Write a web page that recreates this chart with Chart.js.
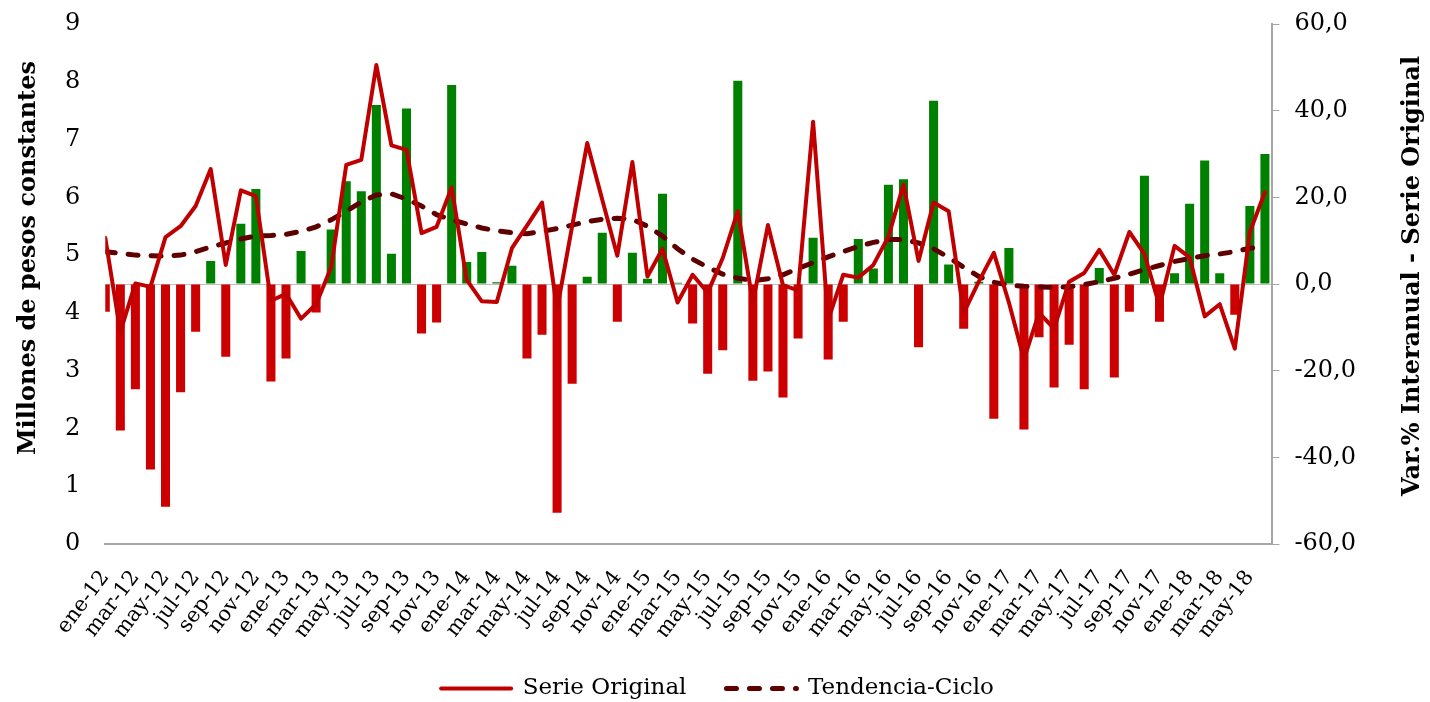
<!DOCTYPE html>
<html>
<head>
<meta charset="utf-8">
<script src="https://cdn.jsdelivr.net/npm/chart.js@4.4.1/dist/chart.umd.min.js"></script>
<style>
  html, body { margin: 0; padding: 0; background: #ffffff; }
  #wrap { width: 1430px; height: 702px; position: relative; }
</style>
</head>
<body>
<div id="wrap"><canvas id="c" width="1430" height="702"></canvas></div>
<script>
const monthLabels = [
  'ene-12','feb-12','mar-12','abr-12','may-12','jun-12','jul-12','ago-12','sep-12','oct-12','nov-12','dic-12',
  'ene-13','feb-13','mar-13','abr-13','may-13','jun-13','jul-13','ago-13','sep-13','oct-13','nov-13','dic-13',
  'ene-14','feb-14','mar-14','abr-14','may-14','jun-14','jul-14','ago-14','sep-14','oct-14','nov-14','dic-14',
  'ene-15','feb-15','mar-15','abr-15','may-15','jun-15','jul-15','ago-15','sep-15','oct-15','nov-15','dic-15',
  'ene-16','feb-16','mar-16','abr-16','may-16','jun-16','jul-16','ago-16','sep-16','oct-16','nov-16','dic-16',
  'ene-17','feb-17','mar-17','abr-17','may-17','jun-17','jul-17','ago-17','sep-17','oct-17','nov-17','dic-17',
  'ene-18','feb-18','mar-18','abr-18','may-18','jun-18'
];

const serieOriginal = [
  5.30, 3.67, 4.51, 4.45, 5.31, 5.50, 5.85, 6.49, 4.83, 6.12,
  6.02, 4.21, 4.33, 3.90, 4.15, 4.79, 6.56, 6.65, 8.29, 6.90,
  6.82, 5.38, 5.49, 6.17, 4.57, 4.20, 4.19, 5.12, 5.51, 5.91,
  4.06, 5.50, 6.94, 5.96, 4.99, 6.61, 4.63, 5.11, 4.18, 4.66,
  4.35, 4.95, 5.76, 4.18, 5.52, 4.48, 4.39, 7.31, 3.88, 4.66,
  4.61, 4.83, 5.32, 6.22, 4.90, 5.91, 5.76, 4.00, 4.54, 5.04,
  4.18, 3.20, 4.00, 3.73, 4.54, 4.69, 5.09, 4.66, 5.40, 5.02,
  4.12, 5.16, 4.96, 3.94, 4.15, 3.38, 5.40, 6.09
];

const tendenciaCiclo = [
  5.06, 5.03, 5.00, 4.99, 4.98, 5.00, 5.06, 5.14, 5.21, 5.28,
  5.33, 5.34, 5.36, 5.41, 5.49, 5.61, 5.76, 5.92, 6.04, 6.06,
  5.97, 5.85, 5.70, 5.61, 5.54, 5.47, 5.42, 5.39, 5.37, 5.41,
  5.46, 5.52, 5.58, 5.62, 5.64, 5.62, 5.50, 5.33, 5.11, 4.93,
  4.79, 4.67, 4.60, 4.56, 4.59, 4.66, 4.77, 4.87, 4.97, 5.06,
  5.15, 5.22, 5.27, 5.27, 5.21, 5.11, 4.96, 4.79, 4.63, 4.53,
  4.48, 4.46, 4.45, 4.44, 4.45, 4.49, 4.54, 4.60, 4.67, 4.75,
  4.82, 4.89, 4.94, 4.99, 5.02, 5.06, 5.12, 5.14
];

const variacionInteranual = [
  -6.4, -33.8, -24.3, -42.8, -51.4, -25.0, -11.0, 5.3, -16.8, 13.9,
  21.9, -22.5, -17.2, 7.6, -6.6, 12.6, 23.7, 21.4, 41.3, 7.0,
  40.5, -11.4, -8.9, 45.9, 5.1, 7.4, 0.4, 4.2, -17.2, -11.7,
  -52.8, -23.0, 1.7, 11.8, -8.7, 7.2, 1.2, 20.8, 0.3, -9.1,
  -20.7, -15.3, 46.9, -22.3, -20.2, -26.2, -12.6, 10.7, -17.4, -8.7,
  10.4, 3.6, 22.9, 24.2, -14.6, 42.3, 4.5, -10.3, 0.5, -31.1,
  8.3, -33.6, -12.3, -23.9, -14.0, -24.3, 3.7, -21.6, -6.4, 25.0,
  -8.7, 2.5, 18.5, 28.5, 2.5, -7.1, 18.0, 30.0
];

const seriesNames = ['Serie Original', 'Tendencia-Ciclo', 'Var.% Interanual'];
const leftAxisTitle = 'Millones de pesos constantes';
const rightAxisTitle = 'Var.% Interanual - Serie Original';

const FONT = "'DejaVu Serif', serif";
const RED_LINE = '#C00000';
const RED_BAR = '#CC0000';
const GREEN_BAR = '#008000';
const TREND = '#5E0000';
const AXIS_GRAY = '#A6A6A6';

const toXY = arr => arr.map((v, i) => ({ x: i, y: v }));

const axisTitlesPlugin = {
  id: 'axisTitles',
  afterDraw(chart) {
    const ctx = chart.ctx;
    const ca = chart.chartArea;
    const midY = (ca.top + ca.bottom) / 2;
    ctx.save();
    ctx.font = 'bold 24px ' + FONT;
    ctx.fillStyle = '#000';
    ctx.textAlign = 'center';
    ctx.textBaseline = 'middle';
    ctx.save();
    ctx.translate(ca.left - 77, midY - 26);
    ctx.rotate(-Math.PI / 2);
    ctx.fillText(leftAxisTitle, 0, 0);
    ctx.restore();
    ctx.save();
    ctx.translate(ca.right + 140, midY - 8);
    ctx.rotate(-Math.PI / 2);
    ctx.fillText(rightAxisTitle, 0, 0);
    ctx.restore();
    ctx.restore();
  }
};

const legendShiftPlugin = {
  id: 'legendShift',
  afterLayout(chart) {
    if (chart.legend) {
      chart.legend.left += 12;
      chart.legend.right += 12;
    }
  }
};

new Chart(document.getElementById('c'), {
  type: 'bar',
  data: {
    datasets: [
      {
        type: 'line',
        label: seriesNames[0],
        data: toXY(serieOriginal),
        yAxisID: 'y',
        borderColor: RED_LINE,
        backgroundColor: RED_LINE,
        borderWidth: 4,
        pointRadius: 0,
        tension: 0,
        borderJoinStyle: 'round',
        borderCapStyle: 'round',
        order: 1
      },
      {
        type: 'line',
        label: seriesNames[1],
        data: toXY(tendenciaCiclo),
        yAxisID: 'y',
        borderColor: TREND,
        backgroundColor: TREND,
        borderWidth: 5,
        borderDash: [10, 13],
        borderCapStyle: 'round',
        pointRadius: 0,
        tension: 0,
        order: 2
      },
      {
        type: 'bar',
        label: seriesNames[2],
        data: toXY(variacionInteranual),
        yAxisID: 'y1',
        backgroundColor: variacionInteranual.map(v => v >= 0 ? GREEN_BAR : RED_BAR),
        borderWidth: 0,
        barPercentage: 0.6,
        categoryPercentage: 1,
        clip: 0,
        order: 3
      }
    ]
  },
  options: {
    responsive: false,
    animation: false,
    devicePixelRatio: 1,
    layout: { padding: { left: 40, right: 59, top: 24, bottom: -8 } },
    plugins: {
      tooltip: { enabled: false },
      legend: {
        position: 'bottom',
        align: 'center',
        labels: {
          usePointStyle: true,
          pointStyle: 'line',
          pointStyleWidth: 70,
          padding: 40,
          color: '#000',
          font: { family: FONT, size: 23 },
          filter: item => item.datasetIndex !== 2,
          generateLabels: chart => {
            const items = Chart.defaults.plugins.legend.labels.generateLabels(chart);
            items.forEach(it => {
              const ds = chart.data.datasets[it.datasetIndex];
              it.lineDash = ds.borderDash || [];
              it.lineCap = ds.borderCapStyle || 'butt';
              it.lineWidth = ds.borderWidth;
              it.strokeStyle = ds.borderColor;
            });
            return items;
          }
        }
      }
    },
    scales: {
      x: {
        type: 'linear',
        min: 0,
        max: 77.5,
        offset: false,
        grid: { display: false, drawTicks: false },
        border: { display: true, color: AXIS_GRAY, width: 2 },
        afterFit: s => { s.paddingLeft = 0; s.paddingRight = 0; s.height = 93; },
        ticks: {
          stepSize: 2,
          autoSkip: false,
          includeBounds: false,
          maxRotation: 53,
          minRotation: 53,
          padding: 22,
          color: '#000',
          font: { family: FONT, size: 21 },
          callback: v => (Number.isInteger(v) && monthLabels[v]) ? monthLabels[v] : ''
        }
      },
      y: {
        position: 'left',
        min: 0,
        max: 9,
        grid: { display: false, drawTicks: false },
        border: { display: false },
        afterFit: s => { s.paddingTop = 0; s.paddingBottom = 0; },
        ticks: {
          stepSize: 1,
          padding: 25,
          color: '#000',
          font: { family: FONT, size: 24 }
        }
      },
      y1: {
        position: 'right',
        min: -60,
        max: 60,
        afterFit: s => { s.paddingTop = 0; s.paddingBottom = 0; },
        grid: {
          drawOnChartArea: true,
          color: c => (c.tick && c.tick.value === 0) ? '#BFBFBF' : 'rgba(0,0,0,0)',
          tickColor: AXIS_GRAY,
          tickLength: 7,
          lineWidth: 1
        },
        border: { display: true, color: AXIS_GRAY, width: 2 },
        ticks: {
          stepSize: 20,
          padding: 15,
          color: '#000',
          font: { family: FONT, size: 24 },
          callback: v => v.toFixed(1).replace('.', ',')
        }
      }
    }
  },
  plugins: [axisTitlesPlugin, legendShiftPlugin]
});
</script>
</body>
</html>
